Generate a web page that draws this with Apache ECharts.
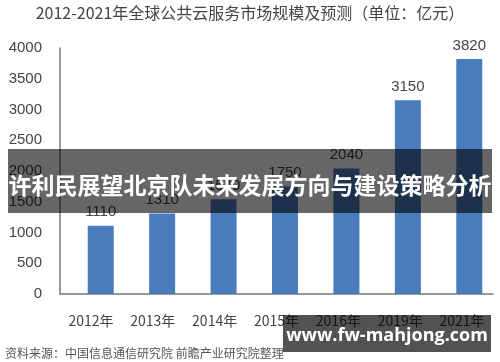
<!DOCTYPE html>
<html>
<head>
<meta charset="utf-8">
<script src="https://cdn.jsdelivr.net/npm/echarts@6/dist/echarts.min.js"></script>
<style>
html,body{margin:0;padding:0;background:#fff;}
#c{width:500px;height:362px;}
</style>
</head>
<body>
<div id="c"></div>
<script>
var titleText = '2012-2021年全球公共云服务市场规模及预测（单位：亿元）';
var categories = ['2012年', '2013年', '2014年', '2015年', '2016年', '2019年', '2021年'];
var marketSize = [1110, 1310, 1540, 1750, 2040, 3150, 3820];
var yMin = 0, yMax = 4000, yStep = 500;
var bannerText = '许利民展望北京队未来发展方向与建设策略分析';
var sourceText = '资料来源：中国信息通信研究院 前瞻产业研究院整理';
var watermarkText = 'www.fw-mahjong.com';

var FONT = '"Noto Sans CJK SC", "Liberation Sans", sans-serif';
var chart = echarts.init(document.getElementById('c'), null, {renderer: 'canvas'});
chart.setOption({
  animation: false,
  backgroundColor: '#ffffff',
  title: {
    text: titleText,
    left: 'center',
    top: 0,
    textStyle: {fontSize: 16, fontWeight: 'normal', color: '#444', fontFamily: FONT}
  },
  grid: [
    {left: 70, width: 434, top: 48, bottom: 68},
    {left: 60, right: 7, top: 48, bottom: 68}
  ],
  xAxis: [
    {type: 'category', gridIndex: 0, data: categories, show: false},
    {type: 'category', gridIndex: 1, data: categories,
     axisLine: {show: true, lineStyle: {color: '#777', width: 1.5}},
     axisTick: {show: false},
     axisLabel: {margin: 20, fontSize: 14, color: '#444', fontFamily: FONT}}
  ],
  yAxis: [
    {type: 'value', gridIndex: 0, min: yMin, max: yMax, interval: yStep, show: false},
    {type: 'value', gridIndex: 1, min: yMin, max: yMax, interval: yStep,
     axisLine: {show: true, lineStyle: {color: '#777', width: 1.5}},
     axisTick: {show: false},
     splitLine: {show: false},
     axisLabel: {margin: 18, fontSize: 15, color: '#444', fontFamily: '"Liberation Sans", sans-serif',
                 formatter: function (v) { return String(v); }}}
  ],
  series: [{
    type: 'bar',
    xAxisIndex: 0,
    yAxisIndex: 0,
    data: marketSize,
    barWidth: 26,
    itemStyle: {color: '#4a7bbd'},
    label: {show: true, position: 'top', distance: 6, fontSize: 15, color: '#444',
            fontFamily: '"Liberation Sans", sans-serif'}
  }],
  graphic: [
    {type: 'rect', z: 100, shape: {x: 8, y: 149, width: 484, height: 64},
     style: {fill: 'rgba(0,0,0,0.6)'}},
    {type: 'text', z: 101, x: 250, y: 185,
     style: {text: bannerText, fill: '#fff', font: 'bold 23px ' + FONT, textAlign: 'center', textVerticalAlign: 'middle'}},
    {type: 'text', z: 100, x: 5, y: 353,
     style: {text: sourceText, fill: '#555', font: '12px ' + FONT, textAlign: 'left', textVerticalAlign: 'middle'}},
    {type: 'rect', z: 100, shape: {x: 283, y: 315, width: 208, height: 37},
     style: {fill: 'rgba(0,0,0,0.68)'}},
    {type: 'text', z: 101, x: 387, y: 336,
     style: {text: watermarkText, fill: '#fff', font: 'bold 18px "Open Sans", "DejaVu Sans", sans-serif', textAlign: 'center', textVerticalAlign: 'middle'}}
  ]
});
</script>
</body>
</html>
